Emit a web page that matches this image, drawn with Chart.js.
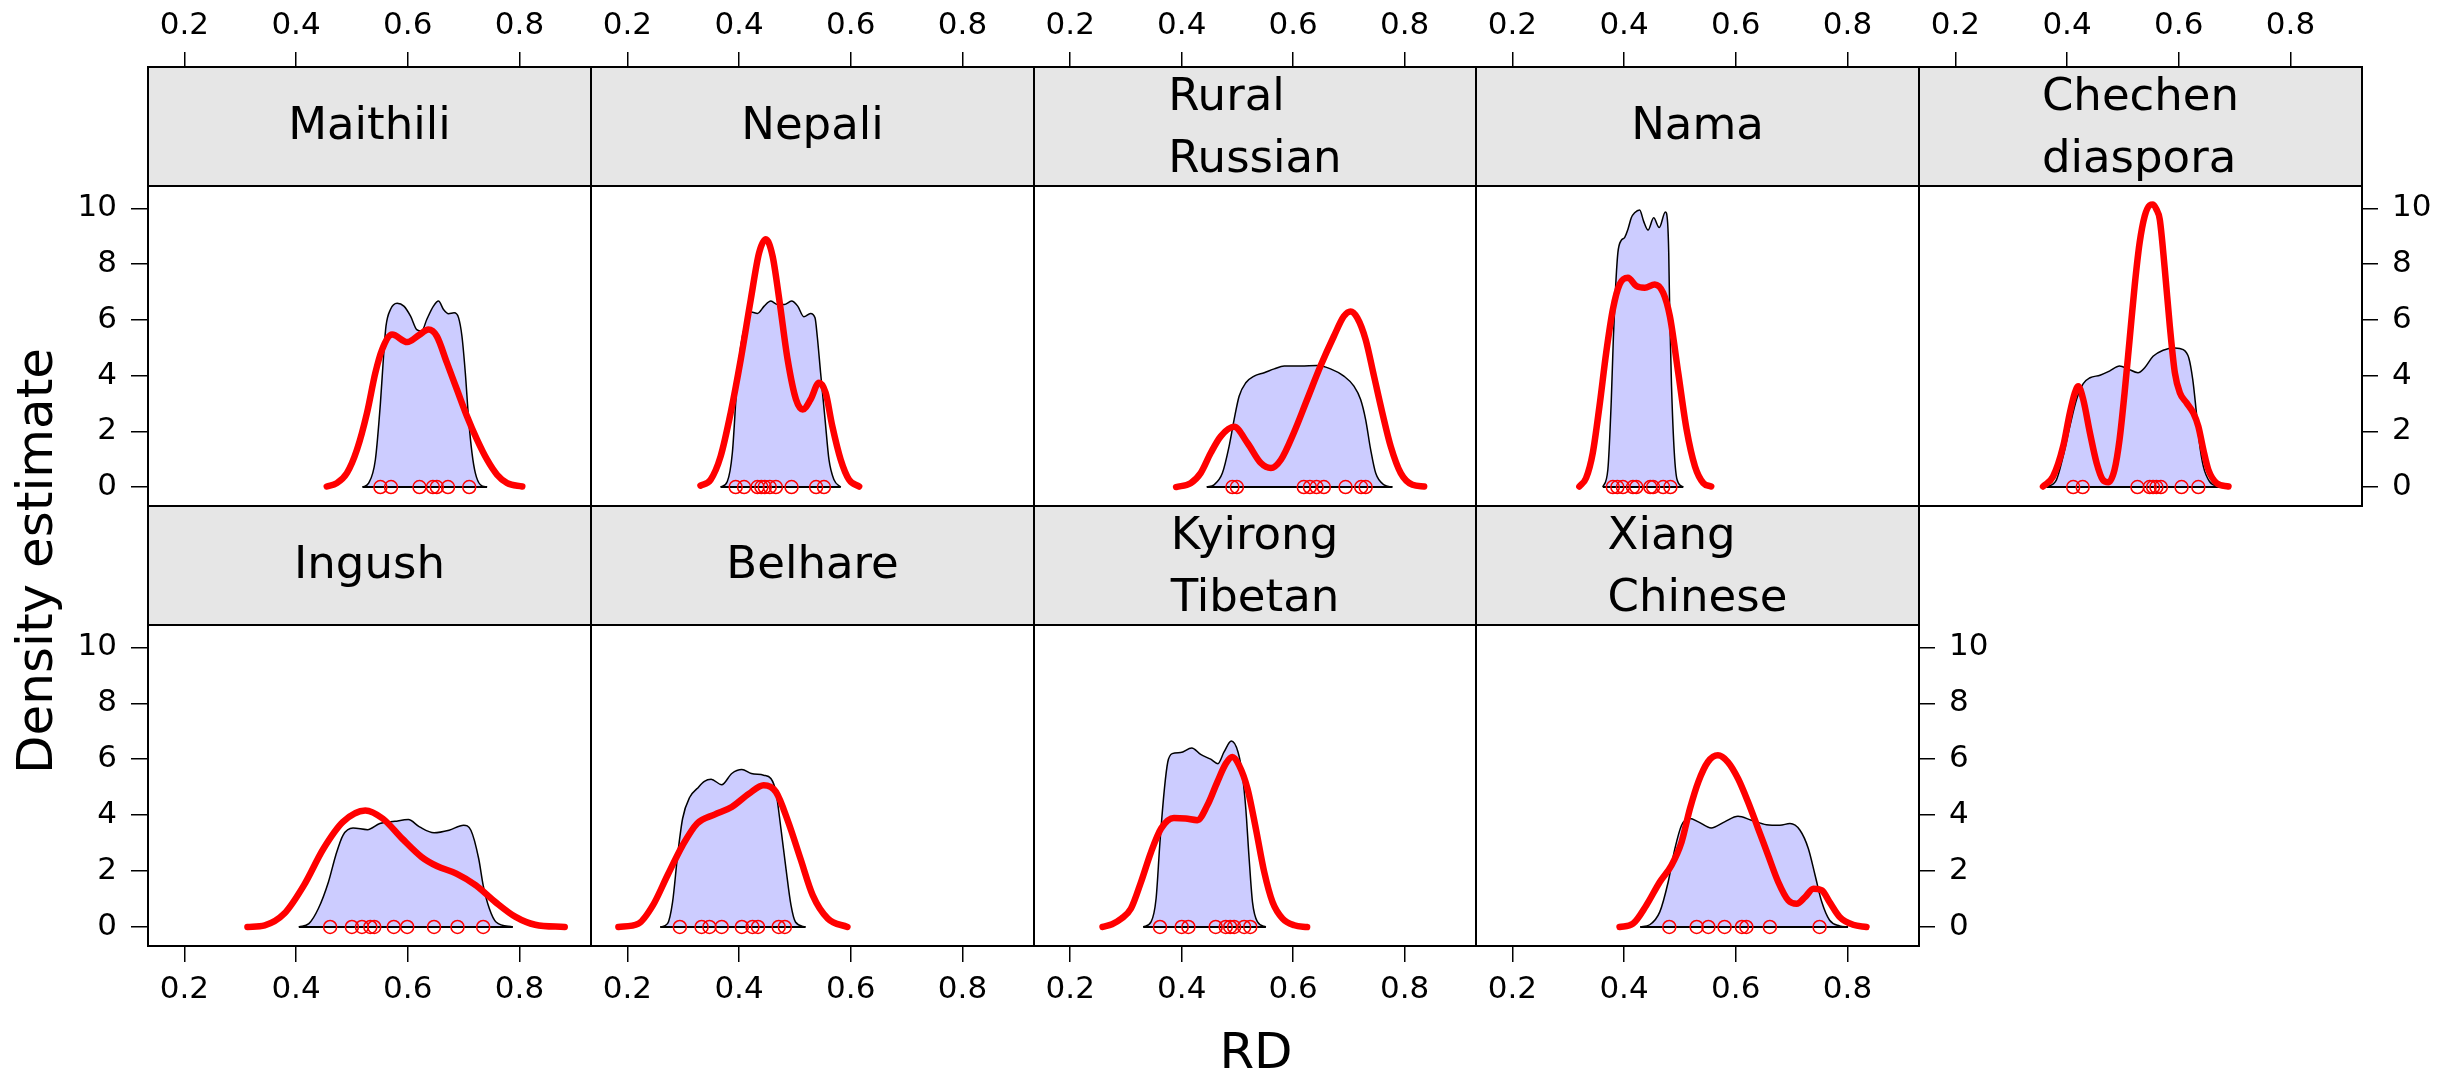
<!DOCTYPE html>
<html>
<head>
<meta charset="utf-8">
<script src="https://cdn.jsdelivr.net/npm/chart.js@4.4.1/dist/chart.umd.min.js"></script>
<style>
  html, body { margin: 0; padding: 0; background: #fff; overflow: hidden; }
  #page { position: relative; width: 2448px; height: 1070px; }
  #page canvas { position: absolute; }
  .axis-title { position: absolute; font-family: 'DejaVu Sans'; font-size: 50px; line-height: 50px; white-space: nowrap; color: #000; transform: translate(-50%, -50%); }
  #ylab { transform: translate(-50%, -50%) rotate(-90deg); }
</style>
</head>
<body>
<div id="page">
  <div class="axis-title" id="ylab" style="left:35px; top:561px;">Density estimate</div>
  <div class="axis-title" id="xlab" style="left:1256px; top:1051px;">RD</div>
</div>
<script>
(function() {
    'use strict';

    // tick labels and axis ranges
    var xTicks = [0.2, 0.4, 0.6, 0.8];
    var yTicks = [0, 2, 4, 6, 8, 10];
    var xRange = [0.135, 0.928];
    var yRange = [-0.68, 10.8];

    // [RD, density] for the shaded curve, the red curve, and the observed RD values
    var maithiliFill = [[0.519,0],[0.530,0.14],[0.542,0.98],[0.551,3.0],[0.557,4.8],[0.561,5.77],[0.569,6.37],[0.581,6.59],[0.593,6.49],[0.605,6.13],[0.616,5.65],[0.625,5.6],[0.634,6.01],[0.646,6.49],[0.655,6.67],[0.664,6.37],[0.673,6.22],[0.683,6.25],[0.691,6.07],[0.697,5.41],[0.703,4.1],[0.709,2.42],[0.715,1.22],[0.721,0.5],[0.730,0.08],[0.742,0]];
    var maithiliLine = [[0.455,0.02],[0.473,0.14],[0.491,0.5],[0.509,1.34],[0.527,2.66],[0.542,4.1],[0.554,4.93],[0.572,5.47],[0.599,5.2],[0.620,5.45],[0.637,5.65],[0.652,5.41],[0.670,4.46],[0.688,3.5],[0.706,2.54],[0.724,1.7],[0.742,0.98],[0.760,0.44],[0.778,0.14],[0.805,0.02]];
    var maithiliObs = [0.551, 0.570, 0.621, 0.645, 0.652, 0.672, 0.710];

    var nepaliFill = [[0.367,0],[0.379,0.2],[0.388,1.22],[0.396,3.62],[0.403,5.05],[0.412,5.89],[0.422,6.28],[0.433,6.23],[0.445,6.49],[0.457,6.67],[0.469,6.55],[0.481,6.55],[0.494,6.67],[0.505,6.49],[0.516,6.11],[0.528,6.23],[0.536,6.07],[0.540,5.41],[0.546,4.1],[0.554,2.42],[0.561,0.98],[0.570,0.26],[0.582,0]];
    var nepaliLine = [[0.331,0.05],[0.349,0.26],[0.367,1.1],[0.385,2.66],[0.403,4.57],[0.421,6.73],[0.436,8.41],[0.448,8.89],[0.460,8.29],[0.472,6.73],[0.487,4.57],[0.502,3.14],[0.514,2.78],[0.528,3.14],[0.543,3.74],[0.555,3.38],[0.567,2.18],[0.582,0.98],[0.597,0.26],[0.615,0.02]];
    var nepaliObs = [0.394, 0.409, 0.433, 0.440, 0.446, 0.455, 0.466, 0.494, 0.538, 0.552];

    var russianFill = [[0.445,0],[0.458,0.08],[0.473,0.5],[0.485,1.46],[0.494,2.42],[0.503,3.26],[0.515,3.74],[0.530,3.98],[0.548,4.1],[0.566,4.24],[0.584,4.34],[0.614,4.34],[0.643,4.36],[0.667,4.24],[0.691,3.98],[0.709,3.62],[0.721,3.14],[0.730,2.42],[0.739,1.34],[0.748,0.5],[0.763,0.08],[0.778,0]];
    var russianLine = [[0.390,0.0],[0.416,0.14],[0.434,0.5],[0.452,1.22],[0.470,1.82],[0.494,2.16],[0.518,1.58],[0.542,0.86],[0.560,0.68],[0.578,0.98],[0.601,1.94],[0.625,3.14],[0.649,4.34],[0.673,5.41],[0.691,6.13],[0.703,6.3],[0.715,6.07],[0.730,5.29],[0.745,3.98],[0.760,2.66],[0.775,1.46],[0.793,0.5],[0.814,0.08],[0.835,0.02]];
    var russianObs = [0.491, 0.499, 0.619, 0.630, 0.642, 0.655, 0.694, 0.722, 0.730];

    var namaFill = [[0.362,0],[0.371,0.62],[0.377,3.02],[0.381,5.41],[0.385,7.21],[0.389,8.41],[0.395,8.85],[0.401,8.95],[0.407,9.25],[0.413,9.66],[0.419,9.84],[0.428,9.94],[0.435,9.54],[0.443,9.22],[0.453,9.66],[0.463,9.31],[0.474,9.87],[0.478,9.49],[0.480,8.41],[0.482,6.01],[0.485,3.62],[0.490,1.22],[0.495,0.26],[0.506,0]];
    var namaLine = [[0.320,0.02],[0.332,0.32],[0.344,1.22],[0.356,2.9],[0.368,4.81],[0.380,6.37],[0.392,7.27],[0.407,7.51],[0.422,7.21],[0.437,7.15],[0.455,7.27],[0.470,6.97],[0.482,6.13],[0.497,4.10],[0.512,2.06],[0.527,0.74],[0.542,0.14],[0.556,0.02]];
    var namaObs = [0.380, 0.388, 0.398, 0.416, 0.422, 0.447, 0.452, 0.470, 0.483];

    var chechenFill = [[0.363,0],[0.381,0.26],[0.393,1.10],[0.405,2.18],[0.417,3.14],[0.429,3.71],[0.441,3.92],[0.459,4.01],[0.476,4.16],[0.494,4.34],[0.509,4.24],[0.527,4.10],[0.539,4.28],[0.554,4.69],[0.572,4.91],[0.593,4.99],[0.608,4.93],[0.618,4.63],[0.625,3.86],[0.631,2.78],[0.637,1.58],[0.644,0.74],[0.655,0.2],[0.674,0]];
    var chechenLine = [[0.357,0.02],[0.375,0.38],[0.393,1.46],[0.405,2.66],[0.414,3.38],[0.420,3.62],[0.429,3.14],[0.441,1.94],[0.453,0.86],[0.464,0.26],[0.474,0.17],[0.485,0.62],[0.494,1.70],[0.503,3.38],[0.512,5.29],[0.521,7.21],[0.530,8.77],[0.539,9.72],[0.548,10.11],[0.554,10.14],[0.560,9.96],[0.566,9.60],[0.575,7.81],[0.584,5.77],[0.593,4.10],[0.602,3.38],[0.614,3.02],[0.626,2.66],[0.635,2.18],[0.644,1.34],[0.653,0.62],[0.668,0.14],[0.689,0.02]];
    var chechenObs = [0.411, 0.428, 0.526, 0.548, 0.554, 0.560, 0.568, 0.605, 0.635];

    var ingushFill = [[0.405,0],[0.423,0.12],[0.440,0.66],[0.458,1.61],[0.471,2.56],[0.484,3.28],[0.502,3.54],[0.528,3.48],[0.550,3.70],[0.577,3.78],[0.601,3.84],[0.621,3.58],[0.647,3.37],[0.674,3.46],[0.700,3.64],[0.713,3.46],[0.727,2.44],[0.735,1.49],[0.746,0.66],[0.758,0.18],[0.788,0]];
    var ingushLine = [[0.313,0],[0.344,0.06],[0.379,0.48],[0.414,1.49],[0.449,2.80],[0.484,3.76],[0.524,4.17],[0.555,3.88],[0.590,3.16],[0.625,2.50],[0.652,2.18],[0.687,1.91],[0.722,1.49],[0.757,0.89],[0.793,0.36],[0.828,0.08],[0.881,0]];
    var ingushObs = [0.461, 0.500, 0.518, 0.533, 0.540, 0.575, 0.599, 0.647, 0.689, 0.735];

    var belhareFill = [[0.259,0],[0.272,0.12],[0.281,0.89],[0.290,2.56],[0.299,3.88],[0.312,4.65],[0.325,4.95],[0.338,5.21],[0.350,5.28],[0.369,5.09],[0.387,5.49],[0.405,5.63],[0.422,5.49],[0.444,5.43],[0.457,5.31],[0.466,4.83],[0.475,3.52],[0.484,2.09],[0.493,0.78],[0.501,0.18],[0.519,0]];
    var belhareLine = [[0.184,0],[0.220,0.12],[0.246,0.78],[0.272,1.85],[0.299,2.92],[0.325,3.70],[0.356,4.02],[0.387,4.29],[0.418,4.77],[0.444,5.07],[0.466,4.83],[0.488,3.76],[0.510,2.44],[0.532,1.13],[0.559,0.30],[0.594,0]];
    var belhareObs = [0.294, 0.333, 0.347, 0.369, 0.405, 0.424, 0.434, 0.471, 0.482];

    var kyirongFill = [[0.331,0],[0.345,0.18],[0.354,1.01],[0.361,3.04],[0.369,4.95],[0.375,5.90],[0.383,6.20],[0.398,6.24],[0.418,6.40],[0.434,6.17],[0.452,6.00],[0.465,5.84],[0.476,6.26],[0.489,6.65],[0.501,6.26],[0.509,5.43],[0.515,4.23],[0.521,2.44],[0.527,0.89],[0.536,0.18],[0.551,0]];
    var kyirongLine = [[0.258,0],[0.275,0.1],[0.292,0.3],[0.309,0.66],[0.327,1.61],[0.345,2.68],[0.363,3.52],[0.386,3.90],[0.407,3.88],[0.428,3.82],[0.446,4.35],[0.464,5.19],[0.479,5.84],[0.491,6.08],[0.503,5.78],[0.518,4.95],[0.533,3.52],[0.548,1.97],[0.563,0.89],[0.581,0.30],[0.602,0.06],[0.625,0]];
    var kyirongObs = [0.361, 0.400, 0.412, 0.461, 0.479, 0.487, 0.494, 0.512, 0.523];

    var xiangFill = [[0.429,0],[0.446,0.08],[0.464,0.54],[0.479,1.61],[0.491,2.80],[0.503,3.64],[0.518,3.88],[0.533,3.76],[0.556,3.54],[0.580,3.76],[0.604,3.96],[0.628,3.82],[0.655,3.66],[0.679,3.64],[0.697,3.70],[0.715,3.46],[0.730,2.80],[0.742,1.85],[0.754,0.89],[0.768,0.24],[0.786,0.04],[0.801,0]];
    var xiangLine = [[0.392,0],[0.416,0.12],[0.440,0.78],[0.464,1.61],[0.485,2.21],[0.503,3.04],[0.518,4.23],[0.533,5.19],[0.550,5.90],[0.568,6.14],[0.586,5.90],[0.604,5.31],[0.622,4.47],[0.640,3.52],[0.658,2.56],[0.676,1.61],[0.694,0.95],[0.709,0.83],[0.724,1.07],[0.739,1.37],[0.754,1.31],[0.768,0.89],[0.786,0.36],[0.810,0.08],[0.834,0]];
    var xiangObs = [0.481, 0.530, 0.551, 0.580, 0.611, 0.619, 0.661, 0.750];

    var panels = [
        { name: 'Maithili', fill: maithiliFill, line: maithiliLine, obs: maithiliObs },
        { name: 'Nepali', fill: nepaliFill, line: nepaliLine, obs: nepaliObs },
        { name: 'Rural Russian', fill: russianFill, line: russianLine, obs: russianObs },
        { name: 'Nama', fill: namaFill, line: namaLine, obs: namaObs },
        { name: 'Chechen diaspora', fill: chechenFill, line: chechenLine, obs: chechenObs },
        { name: 'Ingush', fill: ingushFill, line: ingushLine, obs: ingushObs },
        { name: 'Belhare', fill: belhareFill, line: belhareLine, obs: belhareObs },
        { name: 'Kyirong Tibetan', fill: kyirongFill, line: kyirongLine, obs: kyirongObs },
        { name: 'Xiang Chinese', fill: xiangFill, line: xiangLine, obs: xiangObs }
    ];

    // page layout
    var colEdges = [148, 591, 1034, 1476, 1919, 2362];
    var plotTop = [186, 625];
    var plotH = [320, 321];
    var stripH = 119;
    var M = { l: 150, r: 150, t: 190, b: 120 };

    Chart.defaults.font.family = '"DejaVu Sans"';
    Chart.defaults.color = '#000';

    function toXY(arr) {
        return arr.map(function(p) { return { x: p[0], y: p[1] }; });
    }

    function makeScale(axis, position, show, tickLen, pad, size) {
        var isX = axis === 'x';
        return {
            type: 'linear',
            axis: axis,
            position: position,
            min: isX ? xRange[0] : yRange[0],
            max: isX ? xRange[1] : yRange[1],
            afterBuildTicks: function(s) {
                s.ticks = (isX ? xTicks : yTicks).map(function(v) { return { value: v }; });
            },
            afterFit: function(s) {
                if (isX) { s.height = size; } else { s.width = size; }
            },
            grid: { display: show, drawOnChartArea: false, drawTicks: true, tickLength: tickLen, color: '#000', lineWidth: 1.5 },
            border: { display: false },
            ticks: {
                display: show, padding: pad, autoSkip: false, maxRotation: 0,
                color: '#000', font: { size: 31 },
                callback: function(v) { return String(v); }
            }
        };
    }

    var stripPlugin = {
        id: 'strip',
        afterDraw: function(chart) {
            var ctx = chart.ctx, a = chart.chartArea;
            var top = a.top - stripH, w = a.right - a.left;
            var lines = chart.options.plugins.strip.label.split(' ');
            ctx.save();
            ctx.fillStyle = '#e6e6e6';
            ctx.fillRect(a.left, top, w, stripH);
            ctx.lineWidth = 2;
            ctx.strokeStyle = '#000';
            ctx.strokeRect(a.left, top, w, stripH);
            ctx.strokeRect(a.left, a.top, w, a.bottom - a.top);
            ctx.font = '45px "DejaVu Sans"';
            ctx.fillStyle = '#000';
            ctx.textBaseline = 'middle';
            ctx.textAlign = 'left';
            var wmax = Math.max.apply(null, lines.map(function(l) { return ctx.measureText(l).width; }));
            var x0 = (a.left + a.right) / 2 - wmax / 2;
            var cy = top + stripH / 2 + (lines.length > 1 ? 3 : 1);
            lines.forEach(function(l, k) {
                ctx.fillText(l, x0, cy + (k - (lines.length - 1) / 2) * 62);
            });
            ctx.restore();
        }
    };

    var page = document.getElementById('page');

    panels.forEach(function(p, i) {
        var col = i % 5, row = Math.floor(i / 5);
        var left = colEdges[col], w = colEdges[col + 1] - left;
        var top = plotTop[row], h = plotH[row];

        var canvas = document.createElement('canvas');
        canvas.width = w + M.l + M.r;
        canvas.height = h + M.t + M.b;
        canvas.style.left = (left - M.l) + 'px';
        canvas.style.top = (top - M.t) + 'px';
        page.appendChild(canvas);

        var showTop = row === 0;
        var showBottom = row === 1;
        var showLeft = col === 0;
        var showRight = (row === 0 && col === 4) || (row === 1 && col === 3);

        var first = p.fill[0][0], last = p.fill[p.fill.length - 1][0];

        new Chart(canvas.getContext('2d'), {
            type: 'line',
            data: {
                datasets: [{
                    data: toXY(p.obs.map(function(v) { return [v, 0]; })),
                    showLine: false,
                    pointStyle: 'circle',
                    pointRadius: 6.5,
                    pointBorderWidth: 1.5,
                    pointBorderColor: '#ff0000',
                    pointBackgroundColor: 'rgba(0,0,0,0)',
                    order: 0
                }, {
                    data: toXY(p.line),
                    borderColor: '#ff0000',
                    borderWidth: 6.5,
                    borderCapStyle: 'round',
                    borderJoinStyle: 'round',
                    cubicInterpolationMode: 'monotone',
                    pointRadius: 0,
                    fill: false,
                    order: 1
                }, {
                    data: toXY([[first, 0], [last, 0]]),
                    borderColor: '#000',
                    borderWidth: 2,
                    pointRadius: 0,
                    fill: false,
                    order: 2
                }, {
                    data: toXY(p.fill),
                    borderColor: '#000',
                    borderWidth: 1.5,
                    backgroundColor: '#ccccff',
                    cubicInterpolationMode: 'monotone',
                    pointRadius: 0,
                    fill: 'origin',
                    order: 3
                }]
            },
            options: {
                responsive: false,
                animation: false,
                events: [],
                layout: { padding: 0 },
                plugins: {
                    legend: { display: false },
                    tooltip: { enabled: false },
                    strip: { label: p.name }
                },
                scales: {
                    x: makeScale('x', 'bottom', showBottom, 16, 9, M.b),
                    x2: makeScale('x', 'top', showTop, 134, 7, M.t),
                    y: makeScale('y', 'left', showLeft, 17, 14, M.l),
                    y2: makeScale('y', 'right', showRight, 16, 14, M.r)
                }
            },
            plugins: [stripPlugin]
        });
    });
})();
</script>
</body>
</html>
